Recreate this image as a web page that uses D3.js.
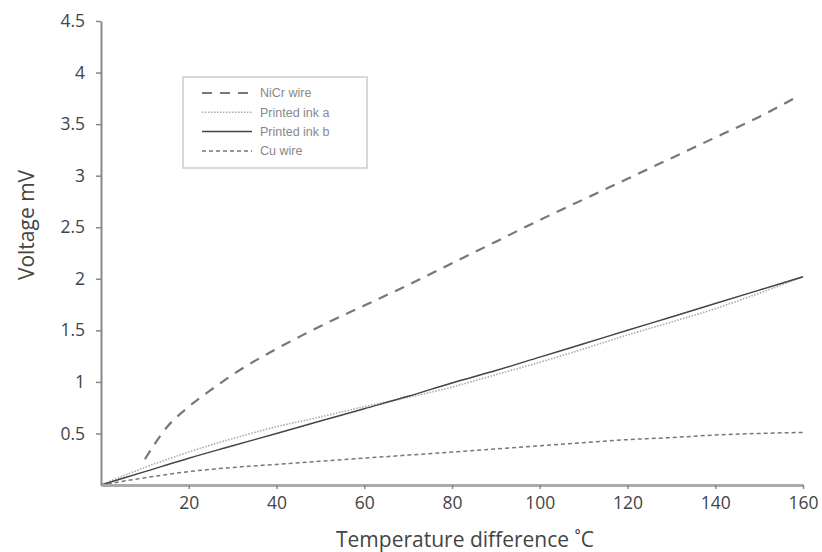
<!DOCTYPE html>
<html>
<head>
<meta charset="utf-8">
<script src="https://cdn.jsdelivr.net/npm/d3@7"></script>
<style>
  body { margin: 0; background: #fff; }
</style>
</head>
<body>
<div id="my-chart"></div>
<script>

// temperature steps for the printed inks and Cu wire
var temps = [0, 10, 20, 30, 40, 50, 60, 70, 80, 90, 100, 110, 120, 130, 140, 150, 160];
var inkA = [0, 0.17, 0.32, 0.45, 0.565, 0.66, 0.76, 0.85, 0.95, 1.07, 1.19, 1.32, 1.455, 1.58, 1.71, 1.86, 2.02];
var inkB = [0, 0.13, 0.26, 0.38, 0.50, 0.62, 0.74, 0.86, 0.99, 1.11, 1.24, 1.37, 1.50, 1.63, 1.76, 1.89, 2.02];
var cuWire = [0, 0.07, 0.13, 0.17, 0.20, 0.23, 0.26, 0.29, 0.32, 0.35, 0.38, 0.41, 0.44, 0.46, 0.485, 0.50, 0.51];

// NiCr wire was measured on its own temperature steps
var nicrTemps = [10, 15, 20, 25, 30, 40, 50, 60, 70, 80, 90, 100, 110, 120, 130, 140, 150, 158];
var nicrWire = [0.25, 0.56, 0.76, 0.92, 1.07, 1.32, 1.54, 1.74, 1.94, 2.15, 2.36, 2.57, 2.77, 2.97, 3.17, 3.37, 3.57, 3.75];

var xTicks = [20, 40, 60, 80, 100, 120, 140, 160];
var yTicks = [0.5, 1, 1.5, 2, 2.5, 3, 3.5, 4, 4.5];
var seriesNames = ['NiCr wire', 'Printed ink a', 'Printed ink b', 'Cu wire'];

var W = 822, H = 552;
var margin = {top: 21, right: 19, bottom: 67, left: 101};

var svg = d3.select('#my-chart')
    .append('svg')
    .attr('width', W)
    .attr('height', H);

var x = d3.scaleLinear()
    .domain([0, 160])
    .range([margin.left, W - margin.right]);

var y = d3.scaleLinear()
    .domain([0, 4.5])
    .range([H - margin.bottom, margin.top]);

// line styles, one per series (same order as seriesNames)
var styles = [
    {stroke: '#777', width: 2.2, dash: '10,8'},
    {stroke: '#aaa', width: 1.6, dash: '1.5,1.5'},
    {stroke: '#444', width: 1.5, dash: null},
    {stroke: '#777', width: 1.5, dash: '4,3'}
];

var series = [
    nicrTemps.map(function(t, i) { return [t, nicrWire[i]]; }),
    temps.map(function(t, i) { return [t, inkA[i]]; }),
    temps.map(function(t, i) { return [t, inkB[i]]; }),
    temps.map(function(t, i) { return [t, cuWire[i]]; })
];

var line = d3.line()
    .x(function(d) { return x(d[0]); })
    .y(function(d) { return y(d[1]); })
    .curve(d3.curveMonotoneX);

series.forEach(function(s, i) {
    svg.append('path')
        .datum(s)
        .attr('fill', 'none')
        .attr('stroke', styles[i].stroke)
        .attr('stroke-width', styles[i].width)
        .attr('stroke-dasharray', styles[i].dash)
        .attr('d', line);
});

// axes
var xAxis = svg.append('g')
    .attr('transform', 'translate(0,' + (H - margin.bottom) + ')')
    .call(d3.axisBottom(x).tickValues(xTicks).tickSize(4).tickSizeOuter(0).tickPadding(8));

var yAxis = svg.append('g')
    .attr('transform', 'translate(' + margin.left + ',0)')
    .call(d3.axisLeft(y).tickValues(yTicks).tickSize(5).tickSizeOuter(0).tickPadding(11)
        .tickFormat(function(d) { return d; }));

[xAxis, yAxis].forEach(function(g) {
    g.select('.domain').attr('stroke', '#888').attr('stroke-width', 2);
    g.selectAll('.tick line').attr('stroke', '#888').attr('stroke-width', 1.5);
    g.selectAll('.tick text')
        .attr('fill', '#444')
        .style('font-family', '"Open Sans", sans-serif')
        .style('font-size', '17.5px');
});
xAxis.select('.domain').attr('stroke-width', 3).attr('stroke', '#aaa');

// axis titles
svg.append('text')
    .attr('x', 465)
    .attr('y', 547)
    .attr('text-anchor', 'middle')
    .attr('fill', '#444')
    .style('font-family', '"Open Sans", sans-serif')
    .style('font-size', '21px')
    .text('Temperature difference \u02daC');

svg.append('text')
    .attr('transform', 'translate(34,225) rotate(-90)')
    .attr('text-anchor', 'middle')
    .attr('fill', '#444')
    .style('font-family', '"Open Sans", sans-serif')
    .style('font-size', '21px')
    .text('Voltage mV');

// legend
var legend = svg.append('g').attr('transform', 'translate(183,77)');
legend.append('rect')
    .attr('width', 184)
    .attr('height', 91)
    .attr('fill', '#fff')
    .attr('stroke', '#ccc')
    .attr('stroke-width', 1.5);

seriesNames.forEach(function(name, i) {
    var row = legend.append('g').attr('transform', 'translate(0,' + (16 + i * 19.3) + ')');
    row.append('line')
        .attr('x1', 19).attr('x2', 69)
        .attr('stroke', styles[i].stroke)
        .attr('stroke-width', styles[i].width)
        .attr('stroke-dasharray', styles[i].dash);
    row.append('text')
        .attr('x', 77)
        .attr('dy', '0.35em')
        .attr('fill', '#888')
        .style('font-family', '"Liberation Sans", Arial, sans-serif')
        .style('font-size', '12.5px')
        .text(name);
});

</script>
</body>
</html>
